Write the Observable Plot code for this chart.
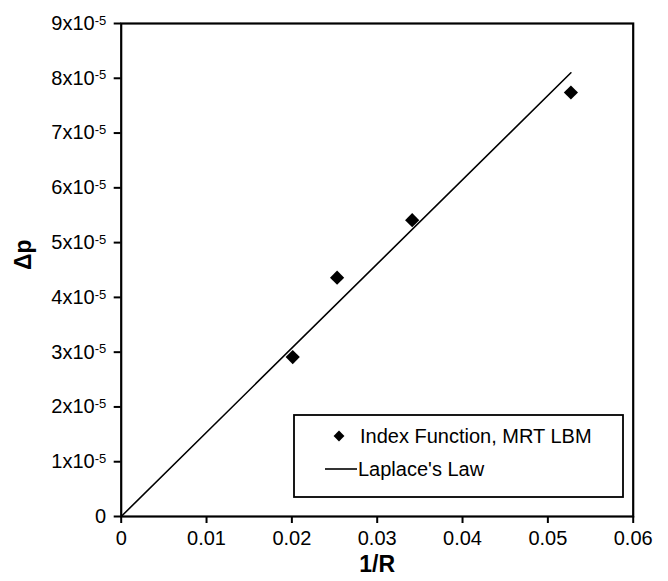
<!DOCTYPE html>
<html>
<head>
<meta charset="utf-8">
<script src="https://cdn.jsdelivr.net/npm/d3@7"></script>
<script src="https://cdn.jsdelivr.net/npm/@observablehq/plot@0.6"></script>
<style>
  html, body { margin: 0; padding: 0; background: white; }
  #chart { width: 668px; height: 581px; }
</style>
</head>
<body>
<div id="chart"></div>
<script>
// Data
const seriesPointsName = "Index Function, MRT LBM";
const seriesLineName = "Laplace's Law";
const invR = [0.0201, 0.0253, 0.0341, 0.0527];
const deltaP = [2.91e-5, 4.36e-5, 5.41e-5, 7.74e-5];
const lawInvR = [0, 0.0527];
const lawDeltaP = [0, 8.10e-5];
const xTicks = [0, 0.01, 0.02, 0.03, 0.04, 0.05, 0.06];
const xTickLabels = ["0", "0.01", "0.02", "0.03", "0.04", "0.05", "0.06"];
const yTicks = [0, 1e-5, 2e-5, 3e-5, 4e-5, 5e-5, 6e-5, 7e-5, 8e-5, 9e-5];
const yTickLabels = ["0", "1x10^-5", "2x10^-5", "3x10^-5", "4x10^-5", "5x10^-5", "6x10^-5", "7x10^-5", "8x10^-5", "9x10^-5"];
const xLabel = "1/R";
const yLabel = "Δp";

const points = invR.map((x, i) => ({x, y: deltaP[i]}));
const law = lawInvR.map((x, i) => ({x, y: lawDeltaP[i]}));

const font = "'Liberation Sans', Arial, Helvetica, sans-serif";

const chart = Plot.plot({
  width: 668,
  height: 581,
  marginLeft: 120.7,
  marginRight: 35.3,
  marginTop: 23,
  marginBottom: 65,
  style: {fontFamily: font, fontSize: "20px", background: "white", color: "black"},
  x: {domain: [0, 0.06]},
  y: {domain: [0, 9e-5]},
  marks: [
    Plot.axisX({ticks: xTicks, tickFormat: d => xTickLabels[xTicks.findIndex(t => Math.abs(t - d) < 1e-9)], tickSize: 7, tickPadding: 7, strokeWidth: 2, label: null, fontSize: 20}),
    Plot.axisY({ticks: yTicks, tickFormat: d => yTickLabels[yTicks.findIndex(t => Math.abs(t - d) < 1e-12)], tickSize: 7, tickPadding: 8, strokeWidth: 2, label: null, fontSize: 20}),
    Plot.line(law, {x: "x", y: "y", stroke: "black", strokeWidth: 1.6}),
    Plot.dot(points, {x: "x", y: "y", symbol: "diamond2", r: 6.4, fill: "black", stroke: "none"}),
    Plot.frame({stroke: "black", strokeWidth: 2.2}),
    Plot.text([xLabel], {frameAnchor: "bottom", dy: 55, text: d => d, fontWeight: "bold", fontSize: 23}),
    Plot.text([yLabel], {frameAnchor: "left", dx: -98, rotate: -90, text: d => d, fontWeight: "bold", fontSize: 23})
  ]
});

const svg = d3.select(chart);

// superscript exponents on y tick labels
svg.selectAll('[aria-label="y-axis tick label"] text').each(function() {
  const t = d3.select(this);
  const s = t.text();
  if (s.includes("^")) {
    const [base, exp] = s.split("^");
    t.text(null);
    t.append("tspan").text(base);
    t.append("tspan").attr("dy", "-0.4em").attr("font-size", "13px").text(exp);
  }
});

// legend box
const lg = svg.append("g").attr("font-family", font).attr("font-size", 20).attr("text-anchor", "start");
lg.append("rect").attr("x", 294).attr("y", 415).attr("width", 329).attr("height", 82)
  .attr("fill", "white").attr("stroke", "black").attr("stroke-width", 1.8);
lg.append("path").attr("d", d3.symbol(d3.symbolDiamond2, 75)())
  .attr("transform", "translate(339,436)").attr("fill", "black");
lg.append("text").attr("x", 360).attr("y", 436).attr("dy", "0.35em").attr("text-anchor", "start").text(seriesPointsName);
lg.append("line").attr("x1", 325).attr("x2", 357).attr("y1", 469).attr("y2", 469)
  .attr("stroke", "black").attr("stroke-width", 1.6);
lg.append("text").attr("x", 358).attr("y", 469).attr("dy", "0.35em").attr("text-anchor", "start").text(seriesLineName);

document.getElementById("chart").appendChild(chart);
</script>
</body>
</html>
